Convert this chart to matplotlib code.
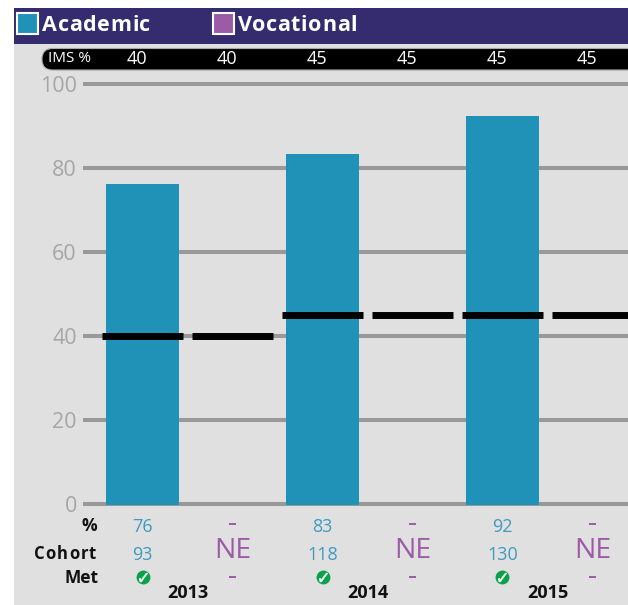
import matplotlib
matplotlib.use("Agg")
import matplotlib.pyplot as plt
from matplotlib.patches import FancyBboxPatch, Rectangle
from matplotlib.transforms import blended_transform_factory

plt.rcParams['font.family'] = ['Open Sans', 'DejaVu Sans']

W, H = 628, 605

# data
positions = [0, 1, 2, 3, 4, 5]
academic_pos = [0, 2, 4]
academic = [76, 83, 92]
ims = [40, 40, 45, 45, 45, 45]
cohort = [93, 118, 130]
years = ['2013', '2014', '2015']
yticks = [0, 20, 40, 60, 80, 100]

blue = '#2092b8'
purple = '#9c5ba6'
blue_txt = '#3f9cbf'
bg = '#e0e0e0'
navy = '#342c6e'

fig = plt.figure(figsize=(W / 100, H / 100), dpi=100, facecolor='white')


def pixel_axes():
    a = fig.add_axes([0, 0, 1, 1])
    a.set_xlim(0, W)
    a.set_ylim(H, 0)
    a.axis('off')
    a.patch.set_visible(False)
    return a


# matplotlib has no letter spacing, so place the letters one by one
def spaced(a, x, y, s, gap, **kw):
    r = fig.canvas.get_renderer()
    for ch in s:
        a.text(x, y, ch, ha='left', va='baseline', **kw)
        w = a.text(0, 0, ch + '.', **kw)
        d = a.text(0, 0, '.', **kw)
        x += w.get_window_extent(r).width - d.get_window_extent(r).width + gap
        w.remove()
        d.remove()


# page layer in pixels
pg = pixel_axes()
pg.add_patch(Rectangle((14, 44), W - 14, H - 44, fc=bg, ec='none'))
pg.add_patch(Rectangle((14, 8), W - 14, 36, fc=navy, ec='none'))

# legend
pg.add_patch(Rectangle((17, 13), 21, 21, fc=blue, ec='white', lw=1.5))
spaced(pg, 42, 31, 'Academic', 0.65, color='white', fontsize=15.5, fontweight='bold')
pg.add_patch(Rectangle((213, 13), 21, 21, fc=purple, ec='white', lw=1.5))
spaced(pg, 238, 31, 'Vocational', 0.65, color='white', fontsize=15.5, fontweight='bold')

# IMS pill
pg.add_patch(FancyBboxPatch((42, 48.5), 620, 21.5, boxstyle='round,pad=0,rounding_size=10.5',
                            fc='black', ec='#a8a8a8', lw=0.8))
pg.text(48, 59, 'IMS %', color='white', fontsize=11, va='center', ha='left')

# main chart
left, right, top, bottom = 83, W, 84, 504
xlim = ((left - 142.5) / 90, (right - 142.5) / 90)
ax = fig.add_axes([left / W, 1 - bottom / H, (right - left) / W, (bottom - top) / H])
ax.patch.set_visible(False)
ax.set_xlim(xlim)
ax.set_ylim(0, 100)
for s in ax.spines.values():
    s.set_visible(False)
ax.set_xticks([])
ax.set_yticks(yticks)
ax.tick_params(axis='y', length=0, pad=4.5, labelsize=15.5, labelcolor='#a6a6a6')
for y in yticks:
    ax.axhline(y, color='#999999', lw=2.9, zorder=1, clip_on=False, solid_capstyle='butt')

# bars sit 1px lower and run on a slightly larger scale than the gridlines in the original
bx = fig.add_axes([left / W, 1 - 505 / H, (right - left) / W, 422.4 / H])
bx.patch.set_visible(False)
bx.axis('off')
bx.set_xlim(xlim)
bx.set_ylim(0, 100)
bx.bar(academic_pos, academic, width=0.81, color=blue)

# IMS target dashes go over the bars
ov = fig.add_axes(ax.get_position())
ov.patch.set_visible(False)
ov.axis('off')
ov.set_xlim(xlim)
ov.set_ylim(0, 100)
ov.hlines(ims, [p - 0.45 for p in positions], [p + 0.45 for p in positions], color='black', lw=5)

# rows over and under the plot: x from data, y in pixels
tx = pixel_axes()
tr = blended_transform_factory(ax.transData, tx.transData)
for p, v in zip(positions, ims):
    # IMS numbers sit a little left of the bar centres in the original
    tx.text(p - 0.06, 59, str(v), transform=tr, color='white', fontsize=13, ha='center', va='center')

tx.text(97, 526, '%', color='#111111', fontsize=12.5, fontweight='bold', ha='right', va='center')
tx.text(98, 578, 'Met', color='#111111', fontsize=12.5, fontweight='bold', ha='right', va='center')
spaced(tx, 34, 559, 'Cohort', 1.1, color='#111111', fontsize=12, fontweight='bold')

for i, p in enumerate(academic_pos):
    tx.text(p, 527, str(academic[i]), transform=tr, color=blue_txt, fontsize=13, ha='center', va='center')
    tx.text(p, 555, str(cohort[i]), transform=tr, color=blue_txt, fontsize=13, ha='center', va='center')
    tx.plot([p], [577], transform=tr, marker='o', ms=10, mfc='#0ba14a', mec='none', clip_on=False)
    tx.plot([p], [577], transform=tr, marker='$\u2713$', ms=6.5, mfc='white', mec='white', mew=0.3, clip_on=False)
    tx.text(p + 0.5, 593, years[i], transform=tr, color='#111111', fontsize=13, fontweight='bold',
            ha='center', va='center')
    v = p + 1
    tx.plot([v - 0.04, v + 0.04], [524, 524], transform=tr, color=purple, lw=1.4, solid_capstyle='butt')
    tx.text(v, 551, 'NE', transform=tr, color=purple, fontsize=20.5, ha='center', va='center')
    tx.plot([v - 0.04, v + 0.04], [577, 577], transform=tr, color=purple, lw=1.4, solid_capstyle='butt')

fig.savefig('out.png', dpi=100)
